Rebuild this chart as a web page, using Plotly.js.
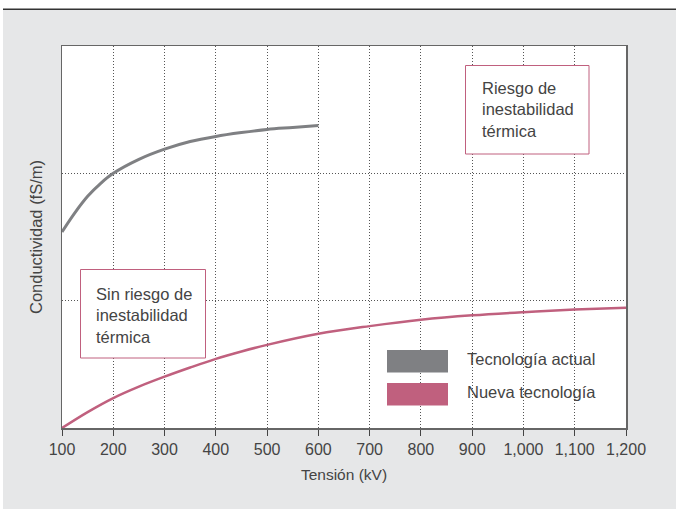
<!DOCTYPE html>
<html>
<head>
<meta charset="utf-8">
<script src="https://cdn.plot.ly/plotly-3.0.1.min.js"></script>
<style>
html,body{margin:0;padding:0;background:#fff;}
#chart{width:676px;height:509px;}
</style>
</head>
<body>
<div id="chart"></div>
<script>
// ---- data ----
var voltsActual = [100, 125, 150, 175, 200, 250, 300, 350, 400, 450, 500, 550, 600];
var condActual  = [1.54, 1.69, 1.82, 1.92, 2.00, 2.11, 2.19, 2.25, 2.29, 2.32, 2.345, 2.36, 2.375];
var voltsNew = [100, 150, 200, 250, 300, 350, 400, 450, 500, 600, 700, 800, 900, 1000, 1100, 1200];
var condNew  = [0, 0.125, 0.235, 0.325, 0.403, 0.475, 0.543, 0.601, 0.653, 0.74, 0.80, 0.85, 0.885, 0.91, 0.93, 0.945];
var xTicks = [100, 200, 300, 400, 500, 600, 700, 800, 900, 1000, 1100, 1200];
var seriesNames = ['Tecnología actual', 'Nueva tecnología'];
var boxTexts = ['Riesgo de<br>inestabilidad<br>térmica', 'Sin riesgo de<br>inestabilidad<br>térmica'];
var xTitle = 'Tensión (kV)';
var yTitle = 'Conductividad (fS/m)';

var colGray = '#7f8083';
var colPink = '#c0607e';
var txtCol = '#444';
var FONT = 'Liberation Sans, Arial, sans-serif';

// layout geometry helpers (pixel -> paper)
var W = 676, H = 509, mL = 62, mR = 50, mT = 46, mB = 81;
var pw = W - mL - mR, ph = H - mT - mB;
function px(x){ return (x - mL) / pw; }
function py(y){ return (H - mB - y) / ph; }

var traces = [
  {x: voltsActual, y: condActual, type: 'scatter', mode: 'lines', name: seriesNames[0],
   line: {color: colGray, width: 3, shape: 'spline', smoothing: 1}, hoverinfo: 'skip'},
  {x: voltsNew, y: condNew, type: 'scatter', mode: 'lines', name: seriesNames[1],
   line: {color: colPink, width: 2.5, shape: 'spline', smoothing: 1}, hoverinfo: 'skip'}
];

var shapes = [
  // white top strip and dark rule
  {type: 'rect', xref: 'paper', yref: 'paper', x0: px(0), x1: px(676), y0: py(9), y1: py(-2),
   fillcolor: '#ffffff', line: {width: 0}, layer: 'above'},
  {type: 'rect', xref: 'paper', yref: 'paper', x0: px(0), x1: px(3), y0: py(520), y1: py(0),
   fillcolor: '#ffffff', line: {width: 0}, layer: 'above'},
  {type: 'line', xref: 'paper', yref: 'paper', x0: px(3), x1: px(676), y0: py(9.3), y1: py(9.3),
   line: {color: '#333', width: 1.6}, layer: 'above'},
  // text boxes
  {type: 'rect', xref: 'paper', yref: 'paper', x0: px(465.5), x1: px(589), y0: py(154), y1: py(65.5),
   fillcolor: '#ffffff', line: {color: colPink, width: 1}, layer: 'above'},
  {type: 'rect', xref: 'paper', yref: 'paper', x0: px(80.5), x1: px(205.5), y0: py(358), y1: py(269.5),
   fillcolor: '#ffffff', line: {color: colPink, width: 1}, layer: 'above'},
  // legend swatches
  {type: 'rect', xref: 'paper', yref: 'paper', x0: px(387), x1: px(448), y0: py(372.5), y1: py(350),
   fillcolor: colGray, line: {width: 0}, layer: 'above'},
  {type: 'rect', xref: 'paper', yref: 'paper', x0: px(387), x1: px(448), y0: py(405.5), y1: py(383),
   fillcolor: colPink, line: {width: 0}, layer: 'above'}
];

var TXT = {family: FONT, size: 16.5, color: txtCol};
var annotations = [
  {xref: 'paper', yref: 'paper', x: px(480), y: py(110), xanchor: 'left', yanchor: 'middle',
   text: boxTexts[0], align: 'left', showarrow: false, font: TXT},
  {xref: 'paper', yref: 'paper', x: px(94), y: py(315), xanchor: 'left', yanchor: 'middle',
   text: boxTexts[1], align: 'left', showarrow: false, font: TXT},
  {xref: 'paper', yref: 'paper', x: px(465), y: py(359), xanchor: 'left', yanchor: 'middle',
   text: seriesNames[0], align: 'left', showarrow: false, font: TXT},
  {xref: 'paper', yref: 'paper', x: px(465), y: py(392), xanchor: 'left', yanchor: 'middle',
   text: seriesNames[1], align: 'left', showarrow: false, font: TXT}
];

var layout = {
  width: W, height: H,
  margin: {l: mL, r: mR, t: mT, b: mB, pad: 0},
  paper_bgcolor: '#e6e7e8',
  plot_bgcolor: '#ffffff',
  showlegend: false,
  font: {family: FONT, size: 14, color: txtCol},
  xaxis: {
    range: [100, 1200], tickvals: xTicks, tickformat: ',d', separatethousands: true,
    ticks: 'outside', ticklen: 6, tickwidth: 1, tickcolor: '#444',
    showline: true, linecolor: '#666', linewidth: 1.5, mirror: true,
    showgrid: true, gridcolor: '#555', gridwidth: 1, griddash: '1px,2px',
    zeroline: false, tickfont: {family: FONT, size: 16, color: txtCol},
    title: {text: xTitle, font: {family: FONT, size: 15.5, color: txtCol}, standoff: 12}
  },
  yaxis: {
    range: [0, 3], dtick: 1, showticklabels: false, ticks: '',
    showline: true, linecolor: '#666', linewidth: 1.5, mirror: true,
    showgrid: true, gridcolor: '#555', gridwidth: 1, griddash: '1px,2px',
    zeroline: false,
    title: {text: yTitle, font: {family: FONT, size: 16.5, color: txtCol}, standoff: 13}
  },
  shapes: shapes,
  annotations: annotations
};

Plotly.newPlot('chart', traces, layout, {staticPlot: true, displayModeBar: false});
</script>
</body>
</html>
